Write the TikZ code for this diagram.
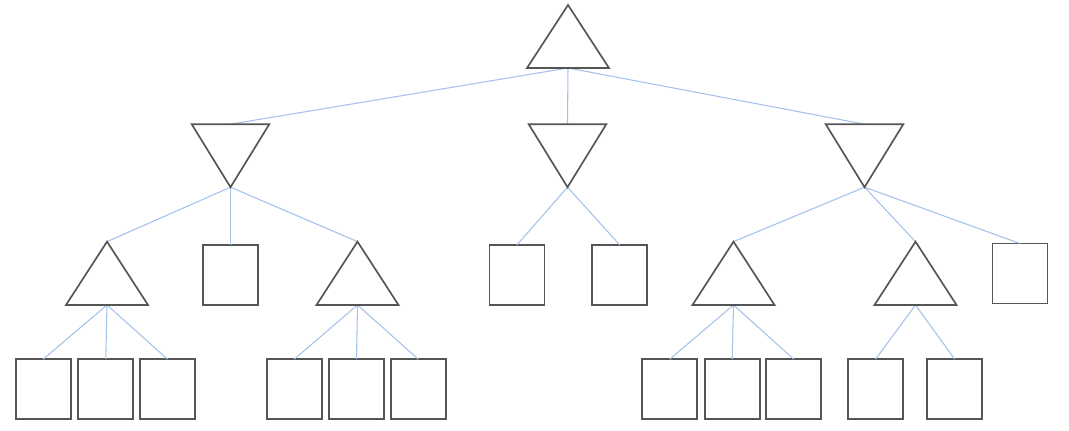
\documentclass[tikz,border=0pt]{standalone}
\definecolor{edgeblue}{HTML}{A4C2EA}
\definecolor{shapegray}{HTML}{555555}
\begin{document}
\begin{tikzpicture}[x=0.75pt,y=-0.75pt,
  box/.style={minimum width=55*0.75pt, minimum height=60*0.75pt, inner sep=0pt, outer sep=0pt, draw=shapegray, line width=1.25pt, fill=white},
  tri/.style 2 args={minimum width=#1*0.75pt, minimum height=#2*0.75pt, inner sep=0pt, outer sep=0pt},
  outline/.style={draw=shapegray, line width=1.25pt, line join=miter},
  link/.style={draw=edgeblue, line width=0.8pt}]
\useasboundingbox (0,0) rectangle (1069,431);
% level 0
\node[tri={82}{63}] (root) at (568,36.5) {};
% level 1 (inverted)
\node[tri={77.6}{63}] (L1) at (230.5,155.7) {};
\node[tri={77.6}{63}] (M1) at (567.5,155.7) {};
\node[tri={77.6}{63}] (R1) at (864.5,155.7) {};
% level 2
\node[tri={82}{63.3}] (A) at (107,273.3) {};
\node[box] (B) at (230.5,274.8) {};
\node[tri={82}{63.3}] (C) at (357.5,273.3) {};
\node[box] (M1a) at (517,274.8) {};
\node[box] (M1b) at (619.6,274.8) {};
\node[tri={82}{63.3}] (D) at (733.5,273.3) {};
\node[tri={82}{63.3}] (E) at (915.5,273.3) {};
\node[box] (F) at (1020,273.5) {};
% level 3
\node[box] (A1) at (43.2,389.2) {};
\node[box] (A2) at (105.8,389.2) {};
\node[box] (A3) at (167.5,389.2) {};
\node[box] (C1) at (294.3,389.2) {};
\node[box] (C2) at (356.5,389.2) {};
\node[box] (C3) at (418.2,389.2) {};
\node[box] (D1) at (669.8,389.2) {};
\node[box] (D2) at (732.2,389.2) {};
\node[box] (D3) at (793.7,389.2) {};
\node[box] (E1) at (875.5,389.2) {};
\node[box] (E2) at (954.7,389.2) {};
% connectors
\foreach \p/\c in {root/L1,root/M1,root/R1,
  L1/A,L1/B,L1/C,M1/M1a,M1/M1b,R1/D,R1/E,R1/F,
  A/A1,A/A2,A/A3,C/C1,C/C2,C/C3,D/D1,D/D2,D/D3,E/E1,E/E2}
  \draw[link] (\p.south) -- (\c.north);
% triangle outlines
\foreach \n in {root,A,C,D,E}
  \draw[outline] (\n.south west) -- (\n.north) -- (\n.south east) -- cycle;
\foreach \n in {L1,M1,R1}
  \draw[outline] (\n.north west) -- (\n.north east) -- (\n.south) -- cycle;
\end{tikzpicture}
\end{document}
